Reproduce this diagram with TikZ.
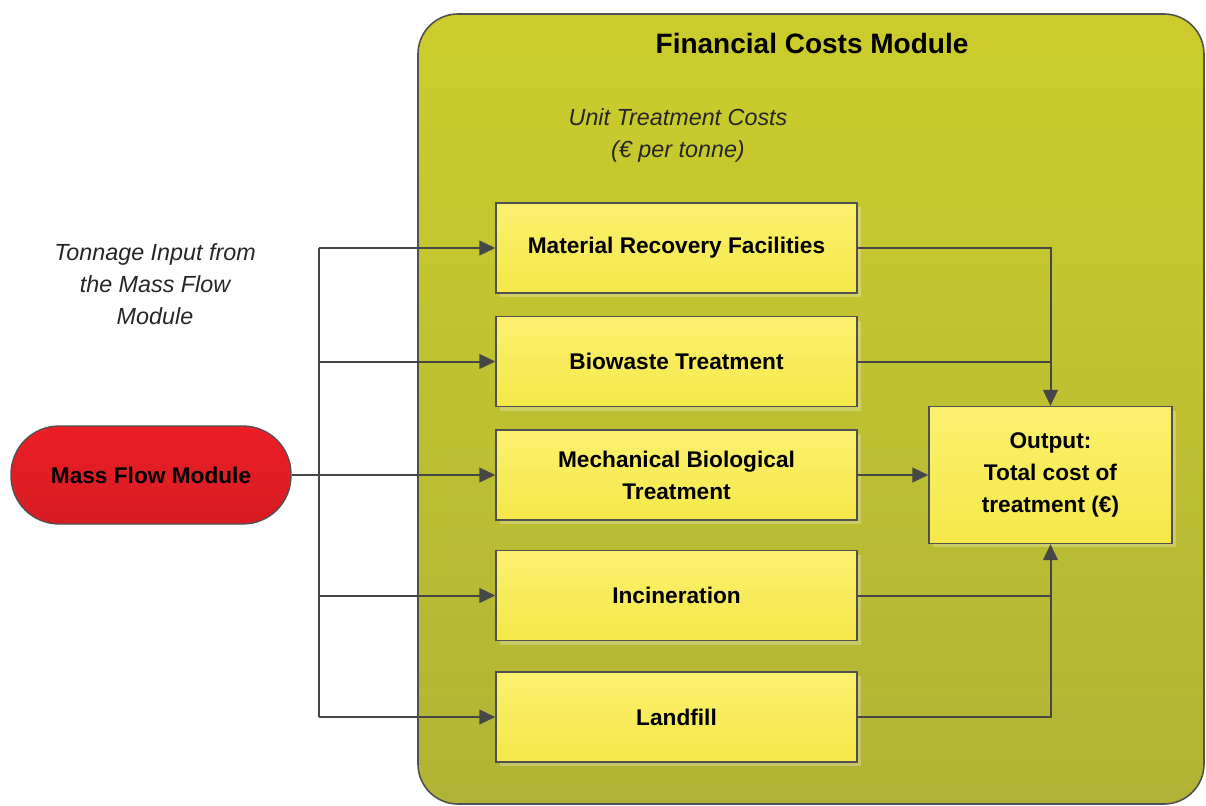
\documentclass[tikz,border=0pt]{standalone}
\usepackage{fontspec}
\setmainfont{Liberation Sans}
\usetikzlibrary{arrows.meta}
\definecolor{contTop}{RGB}{204,205,44}
\definecolor{contBot}{RGB}{177,179,54}
\definecolor{boxTop}{RGB}{251,240,110}
\definecolor{boxBot}{RGB}{245,232,74}
\definecolor{redTop}{RGB}{236,30,38}
\definecolor{redBot}{RGB}{214,28,34}
\definecolor{lineGray}{RGB}{70,70,70}
\definecolor{edgeGray}{RGB}{80,80,80}
\def\px{0.75pt}
\tikzset{
  container/.style={draw=edgeGray, line width=1.2pt, top color=contTop, bottom color=contBot, rounded corners=30pt},
  stepbox/.style={draw=edgeGray, line width=1pt, top color=boxTop, bottom color=boxBot,
    minimum width=361*\px, minimum height=90*\px, align=center, inner sep=2pt,
    font=\bfseries\fontsize{17}{24}\selectfont},
  outbox/.style={stepbox, minimum width=243*\px, minimum height=137*\px},
  massbox/.style={draw=edgeGray, line width=1pt, top color=redTop, bottom color=redBot,
    minimum width=280*\px, minimum height=98*\px, rounded corners=36pt,
    font=\bfseries\fontsize{17}{24}\selectfont},
  note/.style={align=center, font=\itshape\fontsize{17.5}{24}\selectfont, text=black!85},
  conn/.style={draw=lineGray, line width=1.5pt},
  arr/.style={conn, -{Triangle[length=12pt, width=11pt]}},
  shadowbox/.style={fill=white, opacity=0.25, draw=none}
}
\begin{document}
\begin{tikzpicture}[x=0.75pt, y=-0.75pt]
\useasboundingbox (0,0) rectangle (1206,806);
% container
\path[container] (418,14) rectangle (1204,804);
\node[font=\bfseries\fontsize{21}{25}\selectfont] (title) at (812,43) {Financial Costs Module};
\node[note] (unit) at (678,135) {Unit Treatment Costs\\(€ per tonne)};
\node[note] (tonnage) at (155,284) {Tonnage Input from\\the Mass Flow\\Module};
% shadows
\foreach \cy in {248,361.5,475,595.5,717}
  \path[shadowbox] (676.5-180.5+4,\cy-45+4) rectangle (676.5+180.5+4,\cy+45+4);
\path[shadowbox] (929+4,407+4) rectangle (1172+4,543+4);
% boxes
\node[stepbox] (mrf) at (676.5,248) {Material Recovery Facilities};
\node[stepbox] (bio) at (676.5,361.5) {Biowaste Treatment};
\node[stepbox] (mbt) at (676.5,475) {Mechanical Biological\\Treatment};
\node[stepbox] (inc) at (676.5,595.5) {Incineration};
\node[stepbox] (land) at (676.5,717) {Landfill};
\node[outbox] (out) at (1050.5,475) {Output:\\Total cost of\\treatment (€)};
\node[massbox] (mass) at (151,475) {Mass Flow Module};
% trunk
\coordinate (tk) at (319,0);
\draw[conn] (tk |- mrf.west) -- (tk |- land.west);
\draw[arr] (tk |- mrf.west) -- (mrf.west);
\draw[arr] (tk |- bio.west) -- (bio.west);
\draw[arr] (mass.east) -- (mbt.west);
\draw[arr] (tk |- inc.west) -- (inc.west);
\draw[arr] (tk |- land.west) -- (land.west);
% right side
\draw[arr] (mrf.east) -| (out.north);
\draw[conn] (bio.east) -- (out.north |- bio.east);
\draw[arr] (mbt.east) -- (out.west);
\draw[conn] (land.east) -| (out.south |- inc.east);
\draw[arr] (inc.east) -| (out.south);
\end{tikzpicture}
\end{document}
